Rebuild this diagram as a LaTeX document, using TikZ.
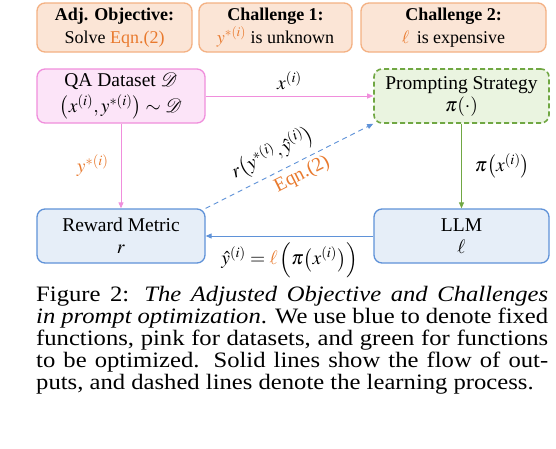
\documentclass[tikz,border=0pt]{standalone}
\usepackage{mathptmx}
\usepackage{fontspec}
\setmainfont{Liberation Serif}[BoldFont={Liberation Serif Bold}, ItalicFont={Liberation Serif Italic}]
\newfontfamily\capfont{Liberation Serif}[FakeStretch=1.12, ItalicFont={Liberation Serif Italic}]
\usetikzlibrary{arrows.meta}
\definecolor{orbd}{HTML}{F4B183}
\definecolor{orfill}{HTML}{FBE5D6}
\definecolor{orng}{HTML}{E97A2E}
\definecolor{pkbd}{HTML}{F08EDC}
\definecolor{pkfill}{HTML}{FCE4F8}
\definecolor{gnbd}{HTML}{70A743}
\definecolor{gnfill}{HTML}{EAF4E0}
\definecolor{blbd}{HTML}{5F92D8}
\definecolor{blfill}{HTML}{E6EEF8}
\begin{document}
\begin{tikzpicture}[x=1pt,y=-1pt,
  box/.style={rounded corners=8pt, line width=1.3pt, align=center, inner sep=0pt,
    minimum height=54pt, font=\fontsize{19.5}{22}\selectfont, text=black},
  tbox/.style={box, draw=orbd, fill=orfill, minimum height=49pt, font=\fontsize{18}{23}\selectfont},
  pbox/.style={box, draw=pkbd, fill=pkfill, minimum width=168pt},
  gbox/.style={box, draw=gnbd, fill=gnfill, minimum width=175pt, dashed, line width=1.6pt,
    dash pattern=on 5pt off 3pt},
  bbox/.style={box, draw=blbd, fill=blfill},
  arr/.style={-{Triangle[length=6pt,width=5pt]}, line width=0.9pt},
  lbl/.style={font=\fontsize{19.5}{22}\selectfont, inner sep=0pt, text=black},
  captext/.style={font=\capfont\fontsize{22}{22.5}\selectfont, inner sep=0pt, anchor=base west},
]
\useasboundingbox[fill=white] (0,0) rectangle (556,448);

\node[tbox, minimum width=155pt] (t1) at (114.5,27.5) {\textbf{Adj. Objective:}\\Solve \textcolor{orng}{Eqn.(2)}};
\node[tbox, minimum width=153pt] (t2) at (275.5,27.5) {\textbf{Challenge 1:}\\$\textcolor{orng}{y^{*(i)}}$ is unknown};
\node[tbox, minimum width=185pt] (t3) at (453.5,27.5) {\textbf{Challenge 2:}\\$\textcolor{orng}{\ell}$\, is expensive};

\node[pbox] (qa) at (121,96) {QA Dataset $\mathcal{D}$\\[4pt]$\big(x^{(i)}, y^{*(i)}\big) \sim \mathcal{D}$};
\node[gbox] (ps) at (461.5,96) {Prompting Strategy\\$\pi(\cdot)$};
\node[bbox, minimum width=168pt] (rw) at (121,236) {Reward Metric\\$r$};
\node[bbox, minimum width=175pt] (llm) at (461.5,236) {LLM\\$\ell$};

\draw[arr, pkbd] (qa.east) -- node[lbl, above=6pt] {$x^{(i)}$} (ps.west);
\draw[arr, pkbd] (qa.south) -- node[lbl, left=12pt, text=orng] {$y^{*(i)}$} (rw.north);
\draw[arr, gnbd] (ps.south) -- node[lbl, right=13pt] {$\pi\big(x^{(i)}\big)$} (llm.north);
\draw[arr, blbd] (llm.west) -- node[lbl, below=6pt] {$\hat{y}^{(i)} = \textcolor{orng}{\ell}\,\Big(\pi\big(x^{(i)}\big)\Big)$} (rw.east);
\draw[arr, blbd, dashed, dash pattern=on 5pt off 4pt] (rw.north east) --
  node[lbl, pos=0.45, sloped, above=6pt] {$r\big(y^{*(i)},\hat{y}^{(i)}\big)$}
  node[lbl, pos=0.54, sloped, below=4pt, text=orng] {Eqn.(2)} (ps.south west);

\node[captext] (c1) at (36,301) {\makebox[512pt][s]{Figure 2: \textit{The Adjusted Objective and Challenges}}};
\node[captext] (c2) at (36,323) {\makebox[512pt][s]{\textit{in prompt optimization}. We use blue to denote fixed}};
\node[captext] (c3) at (36,345) {\makebox[512pt][s]{functions, pink for datasets, and green for functions}};
\node[captext] (c4) at (36,367) {\makebox[512pt][s]{to be optimized. Solid lines show the flow of out-}};
\node[captext] (c5) at (36,389) {puts, and dashed lines denote the learning process.};
\end{tikzpicture}
\end{document}
